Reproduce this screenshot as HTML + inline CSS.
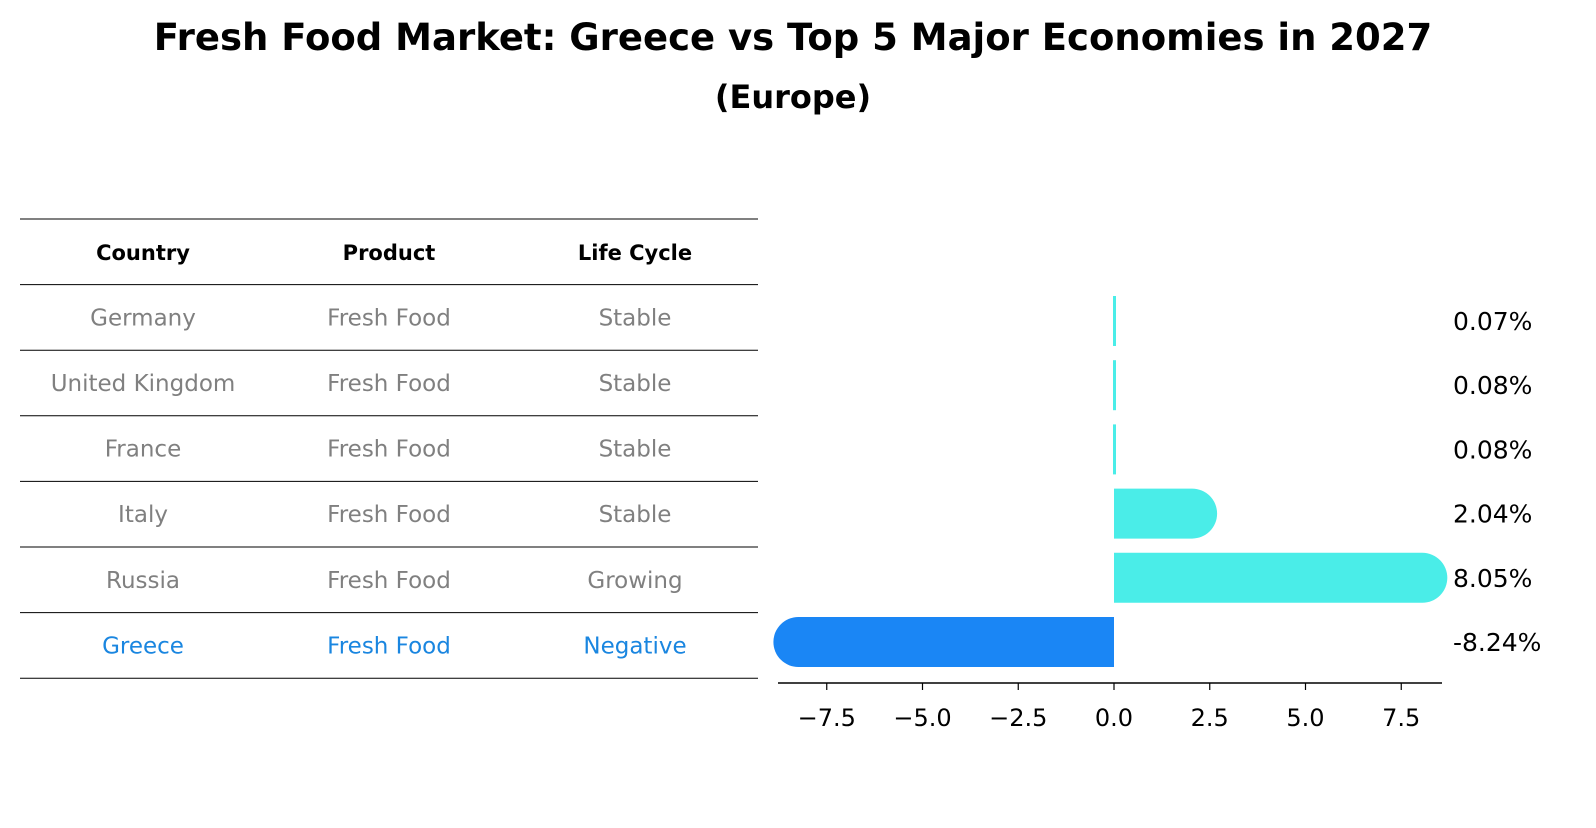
<!DOCTYPE html>
<html><head><meta charset="utf-8"><style>
body{margin:0;width:1596px;height:823px;background:#fff;font-family:"Liberation Sans","DejaVu Sans",sans-serif;overflow:hidden}
svg text{font-family:"DejaVu Sans","Liberation Sans",sans-serif}
</style></head><body>
<svg width="1596" height="823">
<text x="793" y="50" text-anchor="middle" font-size="37" font-weight="bold">Fresh Food Market: Greece vs Top 5 Major Economies in 2027</text>
<text x="793" y="108" text-anchor="middle" font-size="32" font-weight="bold">(Europe)</text>
<g id="table"></g>
<g id="plot"></g>
</svg>
<script>
const countries=["Germany","United Kingdom","France","Italy","Russia","Greece"];
const products=["Fresh Food","Fresh Food","Fresh Food","Fresh Food","Fresh Food","Fresh Food"];
const cycles=["Stable","Stable","Stable","Stable","Growing","Negative"];
const values=[0.07,0.08,0.08,2.04,8.05,-8.24];
const labels=["0.07%","0.08%","0.08%","2.04%","8.05%","-8.24%"];
const ticks=[-7.5,-5.0,-2.5,0.0,2.5,5.0,7.5];
const NS="http://www.w3.org/2000/svg";
function mk(p,t,a){const e=document.createElementNS(NS,t);for(const k in a)e.setAttribute(k,a[k]);p.appendChild(e);return e;}
const tb=document.getElementById('table');
const rowH=65.6, tableTop=219, colX=[143,389,635];
function hline(y){const l=mk(tb,'line',{x1:20,x2:758,y1:y,y2:y,stroke:'#000','stroke-width':1});

}
hline(tableTop);
["Country","Product","Life Cycle"].forEach((h,i)=>{const t=mk(tb,'text',{x:colX[i],y:tableTop+rowH/2+8,'text-anchor':'middle','font-size':21,'font-weight':'bold'});t.textContent=h;

});
countries.forEach((c,r)=>{const y=tableTop+rowH*(r+1);hline(y);
const col=c==="Greece"?"#1a86e0":"#808080";
[c,products[r],cycles[r]].forEach((v,i)=>{const t=mk(tb,'text',{x:colX[i],y:y+rowH/2+8,'text-anchor':'middle','font-size':23,fill:col});t.textContent=v;

});});
hline(tableTop+rowH*7);
const pl=document.getElementById('plot');
const x0=1114, k=38.3;
const X=v=>x0+v*k;
const rowY=r=>321+r*64.2;
const bh=50;
values.forEach((v,r)=>{const cy=rowY(r);const col=v<0?"#1a86f5":"#4aede8";
const xe=X(v), rad=bh/2;
let d;
if(Math.abs(xe-x0)<5){d=`M${x0-1},${cy-bh/2}h3v${bh}h-3z`;}
else if(v>0){d=`M${x0},${cy-bh/2}H${xe}A${rad},${rad} 0 0 1 ${xe},${cy+bh/2}H${x0}Z`;}
else{d=`M${x0},${cy-bh/2}H${xe}A${rad},${rad} 0 0 0 ${xe},${cy+bh/2}H${x0}Z`;}
const p=mk(pl,'path',{d:d,fill:col});


const t=mk(pl,'text',{x:1453,y:cy+9,'font-size':25});t.textContent=labels[r];

});
const ax=mk(pl,'line',{x1:778,x2:1442,y1:683,y2:683,stroke:'#000','stroke-width':1.5});


ticks.forEach(v=>{const l=mk(pl,'line',{x1:X(v),x2:X(v),y1:683,y2:690,stroke:'#000','stroke-width':1.2});


const t=mk(pl,'text',{x:X(v),y:726,'text-anchor':'middle','font-size':24});t.textContent=(v<0?'\u2212':'')+Math.abs(v).toFixed(1);

});
</script>
</body></html>
